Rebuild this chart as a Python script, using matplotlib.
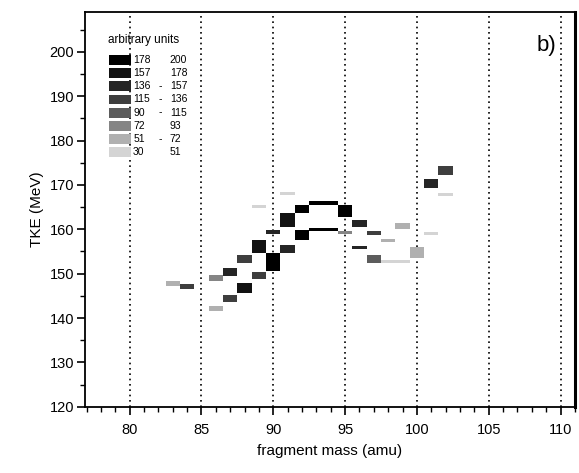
import numpy as np
import matplotlib.pyplot as plt
from matplotlib.patches import Rectangle

plt.rcParams['font.family'] = ['Liberation Sans', 'DejaVu Sans']

# Intensity classes (arbitrary units), lowest to highest
class_lo = [30, 51, 72, 90, 115, 136, 157, 178]
class_hi = [51, 72, 93, 115, 136, 157, 178, 200]
class_dash = [False, True, False, True, True, True, False, False]
class_colors = ['#d4d4d4', '#b0b0b0', '#858585', '#5c5c5c',
                '#3e3e3e', '#252525', '#121212', '#000000']

# Occupied (mass, TKE) cells: mass bin, TKE range, intensity class
mass = [83, 84, 86, 86, 87, 87, 88, 88, 89, 89,
        90, 90, 91, 91, 92, 92, 93, 94, 93, 94,
        95, 95, 96, 96, 97, 97, 98, 98, 99, 99,
        100, 101, 101, 102, 102, 91, 89]
tke_lo = [147.3, 146.5, 148.3, 141.6, 143.5, 149.4, 152.4, 145.6, 154.6, 148.8,
          150.5, 159.0, 154.6, 160.4, 157.5, 163.6, 165.5, 165.5, 159.6, 159.6,
          162.7, 158.9, 160.4, 155.5, 158.7, 152.4, 157.2, 152.5, 152.5, 160.0,
          153.5, 158.7, 169.4, 172.2, 167.6, 167.8, 164.8]
tke_hi = [148.3, 147.6, 149.6, 142.6, 145.2, 151.2, 154.2, 147.8, 157.5, 150.4,
          154.6, 159.8, 156.4, 163.6, 159.8, 165.4, 166.3, 166.3, 160.3, 160.3,
          165.4, 159.6, 162.2, 156.3, 159.5, 154.2, 157.8, 153.1, 153.1, 161.5,
          156.0, 159.3, 171.3, 174.2, 168.2, 168.4, 165.4]
level = [1, 4, 2, 1, 4, 5, 4, 6, 6, 4,
         7, 5, 5, 6, 7, 7, 7, 7, 7, 7,
         7, 2, 5, 5, 4, 3, 1, 0, 0, 1,
         1, 0, 5, 4, 0, 0, 0]

fig = plt.figure(figsize=(5.79, 4.73), dpi=100)
ax = fig.add_axes([0.147, 0.140, 0.846, 0.835])

heights = np.array(tke_hi) - np.array(tke_lo)
ax.bar(mass, heights, bottom=tke_lo, width=1.0,
       color=[class_colors[l] for l in level], edgecolor='none', zorder=3)

ax.set_xlim(76.9, 111.0)
ax.set_ylim(120, 209)
ax.set_xticks(np.arange(80, 111, 5))
ax.set_xticks(np.arange(77, 112, 1), minor=True)
ax.set_yticks(np.arange(120, 201, 10))
ax.set_yticks(np.arange(120, 206, 5), minor=True)

ax.grid(axis='x', which='major', color='black', linestyle=(0, (1, 2.2)), linewidth=1.2)
ax.set_axisbelow(True)

ax.tick_params(which='major', direction='out', length=6, width=1.2,
               labelsize=10.5, pad=2, top=False, right=False)
ax.tick_params(which='minor', direction='out', length=3.5, width=1.0,
               top=False, right=False)
ax.tick_params(axis='x', which='major', pad=6)
for sp in ax.spines.values():
    sp.set_linewidth(1.3)
ax.spines['right'].set_linewidth(2.2)

ax.set_xlabel('fragment mass (amu)', fontsize=11, labelpad=5)
ax.set_ylabel('TKE (MeV)', fontsize=11, labelpad=4)

ax.text(0.922, 0.915, 'b)', transform=ax.transAxes, fontsize=16,
        ha='left', va='center')

# Intensity key in the upper left corner
ax.text(0.047, 0.928, 'arbitrary units', transform=ax.transAxes,
        fontsize=8.5, ha='left', va='center')
row_y = 0.878
for k in range(len(class_lo) - 1, -1, -1):
    ax.add_patch(Rectangle((0.049, row_y - 0.0125), 0.045, 0.025,
                           transform=ax.transAxes, facecolor=class_colors[k],
                           edgecolor='none', zorder=4))
    ax.text(0.098, row_y, str(class_lo[k]), transform=ax.transAxes,
            fontsize=7.5, ha='left', va='center')
    if class_dash[k]:
        ax.text(0.150, row_y, '-', transform=ax.transAxes,
                fontsize=7.5, ha='left', va='center')
    ax.text(0.173, row_y, str(class_hi[k]), transform=ax.transAxes,
            fontsize=7.5, ha='left', va='center')
    row_y -= 0.0333

fig.savefig('out.png', dpi=100)
